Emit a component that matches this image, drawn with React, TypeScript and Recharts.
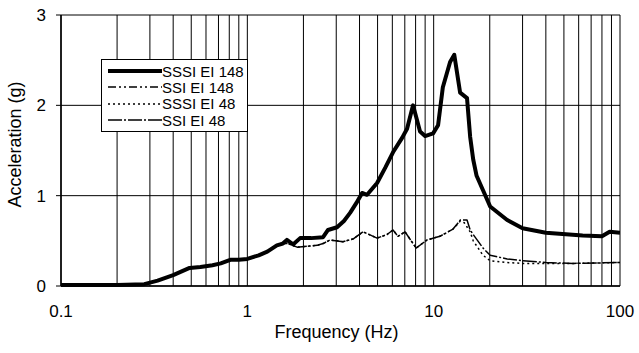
import { LineChart, Line, XAxis, YAxis, CartesianGrid, Legend } from 'recharts'

const FONT = '"Liberation Sans", Arial, sans-serif'

// x axis (log): every minor tick gets a grid line, only decades get a label
const freqTicks = [
  0.1, 0.2, 0.3, 0.4, 0.5, 0.6, 0.7, 0.8, 0.9,
  1, 2, 3, 4, 5, 6, 7, 8, 9,
  10, 20, 30, 40, 50, 60, 70, 80, 90, 100,
]
const decadeTicks = [0.1, 1, 10, 100]
const accelTicks = [0, 1, 2, 3]

// SSSI EI 148 (thick)
const sssi148Freq = [
  0.1, 0.2, 0.28, 0.33, 0.4, 0.49, 0.56, 0.65, 0.72, 0.81, 0.9, 1.0, 1.15, 1.28, 1.44,
  1.55, 1.63, 1.76, 1.92, 2.2, 2.55, 2.71, 3.03, 3.3, 3.56, 3.85, 4.13, 4.39, 4.97, 5.5,
  6.05, 6.77, 7.2, 7.75, 8.45, 8.99, 9.93, 10.56, 11.2, 12.25, 12.9, 13.87, 15.1, 15.7,
  16.3, 17.0, 18.4, 20.1, 24.8, 30, 40, 63, 80, 88, 100,
]
const sssi148Acc = [
  0.01, 0.01, 0.02, 0.06, 0.12, 0.2, 0.21, 0.23, 0.25, 0.29, 0.29, 0.3, 0.34, 0.38, 0.45,
  0.47, 0.51, 0.46, 0.53, 0.53, 0.54, 0.62, 0.65, 0.72, 0.81, 0.92, 1.03, 1.01, 1.14, 1.31,
  1.48, 1.64, 1.74, 2.0, 1.71, 1.66, 1.69, 1.78, 2.2, 2.48, 2.56, 2.14, 2.08, 1.65,
  1.4, 1.22, 1.06, 0.88, 0.73, 0.64, 0.59, 0.56, 0.55, 0.6, 0.59,
]

// SSI EI 148 (dash-dot, runs under the thick line)
const ssi148Freq = [
  0.1, 0.2, 0.28, 0.33, 0.4, 0.49, 0.56, 0.65, 0.72, 0.81, 0.9, 1.0, 1.15, 1.28, 1.44,
  1.55, 1.63, 1.76, 1.92, 2.2, 2.55, 2.71, 3.03, 3.3, 3.56, 3.85, 4.13, 4.39, 4.97, 5.5,
  6.05, 6.77, 7.2, 7.75, 8.45, 8.99, 9.93, 10.56, 11.2, 12.25, 12.9, 13.87, 15.1, 15.7,
  16.3, 17.0, 18.4, 20.1, 24.8, 30, 40, 63, 80, 88, 100,
]
const ssi148Acc = [
  0.01, 0.01, 0.02, 0.06, 0.12, 0.2, 0.21, 0.23, 0.25, 0.29, 0.29, 0.3, 0.34, 0.38, 0.45,
  0.48, 0.5, 0.47, 0.52, 0.53, 0.54, 0.61, 0.65, 0.72, 0.8, 0.92, 1.02, 1.01, 1.13, 1.3,
  1.48, 1.63, 1.74, 1.98, 1.71, 1.66, 1.69, 1.78, 2.18, 2.47, 2.55, 2.14, 2.07, 1.65,
  1.4, 1.22, 1.06, 0.88, 0.73, 0.64, 0.59, 0.56, 0.55, 0.6, 0.59,
]

// SSSI EI 48 (dotted)
const sssi48Freq = [
  0.1, 0.2, 0.28, 0.33, 0.4, 0.49, 0.56, 0.65, 0.72, 0.81, 0.9, 1.0, 1.15, 1.28, 1.44,
  1.55, 1.65, 1.85, 2.09, 2.37, 2.55, 2.78, 3.26, 3.69, 4.18, 4.97, 5.62, 6.05, 6.44,
  7.02, 8.05, 9.22, 10.8, 12.7, 13.9, 14.6, 15.7, 16.3, 18.4, 20.1, 24.8, 30, 56, 100,
]
const sssi48Acc = [
  0.01, 0.01, 0.02, 0.06, 0.12, 0.2, 0.21, 0.23, 0.25, 0.29, 0.29, 0.3, 0.34, 0.38, 0.45,
  0.47, 0.47, 0.43, 0.44, 0.45, 0.47, 0.51, 0.49, 0.52, 0.6, 0.53, 0.57, 0.62, 0.55,
  0.6, 0.42, 0.51, 0.55, 0.63, 0.72, 0.7, 0.6, 0.5, 0.34, 0.28, 0.26, 0.25, 0.25, 0.26,
]

// SSI EI 48 (long dash-dot)
const ssi48Freq = [
  0.1, 0.2, 0.28, 0.33, 0.4, 0.49, 0.56, 0.65, 0.72, 0.81, 0.9, 1.0, 1.15, 1.28, 1.44,
  1.55, 1.65, 1.85, 2.09, 2.37, 2.55, 2.78, 3.26, 3.69, 4.18, 4.97, 5.62, 6.05, 6.44,
  7.02, 8.05, 9.22, 10.8, 12.7, 13.9, 15.1, 15.7, 16.3, 18.4, 20.1, 24.8, 30, 40, 56, 100,
]
const ssi48Acc = [
  0.01, 0.01, 0.02, 0.06, 0.12, 0.2, 0.21, 0.23, 0.25, 0.29, 0.29, 0.3, 0.34, 0.38, 0.45,
  0.47, 0.47, 0.43, 0.44, 0.45, 0.47, 0.51, 0.49, 0.52, 0.6, 0.53, 0.57, 0.62, 0.55,
  0.6, 0.42, 0.51, 0.55, 0.63, 0.73, 0.73, 0.62, 0.57, 0.42, 0.34, 0.3, 0.28, 0.26, 0.25, 0.26,
]

const toPoints = (freq: number[], acc: number[]) => freq.map((f, i) => ({ f, a: acc[i] }))

const series = [
  { name: 'SSSI EI 148', data: toPoints(sssi148Freq, sssi148Acc), width: 4, dash: undefined },
  { name: 'SSI EI 148', data: toPoints(ssi148Freq, ssi148Acc), width: 1.5, dash: '8 3 2 3 2 3' },
  { name: 'SSSI EI 48', data: toPoints(sssi48Freq, sssi48Acc), width: 1.5, dash: '2 3' },
  { name: 'SSI EI 48', data: toPoints(ssi48Freq, ssi48Acc), width: 1.5, dash: '14 2 2 2' },
]

function LegendBox() {
  return (
    <div
      style={{
        border: '1px solid #000',
        background: '#fff',
        padding: '3px 0 3px 6px',
        width: 147,
        boxSizing: 'border-box',
        fontFamily: FONT,
        fontSize: 15,
        color: '#000',
      }}
    >
      {series.map(s => (
        <div key={s.name} style={{ display: 'flex', alignItems: 'center', height: 16.3, whiteSpace: 'nowrap' }}>
          <svg width={54} height={8} style={{ flex: 'none' }}>
            <line x1={0} x2={54} y1={4} y2={4} stroke="#000" strokeWidth={s.width} strokeDasharray={s.dash} />
          </svg>
          <span>{s.name}</span>
        </div>
      ))}
    </div>
  )
}

function YTitle({ viewBox }: any) {
  const cx = viewBox.x + 15
  const cy = viewBox.y + viewBox.height / 2 - 6
  return (
    <text x={cx} y={cy} transform={`rotate(-90 ${cx} ${cy})`} textAnchor="middle" dominantBaseline="central"
      fontFamily={FONT} fontSize={18} fill="#000">
      Acceleration (g)
    </text>
  )
}

function XTitle({ viewBox }: any) {
  const cx = viewBox.x + viewBox.width / 2 - 4
  const cy = viewBox.y + 46
  return (
    <text x={cx} y={cy} textAnchor="middle" dominantBaseline="central" fontFamily={FONT} fontSize={18} fill="#000">
      Frequency (Hz)
    </text>
  )
}

export default function App() {
  return (
    <div style={{ position: 'absolute', left: 0, top: 0, background: '#fff' }}>
      <LineChart width={639} height={353} margin={{ top: 15, right: 19, left: 0, bottom: 0 }}>
        <CartesianGrid stroke="#000" strokeWidth={1} />
        <XAxis
          type="number"
          dataKey="f"
          scale="log"
          domain={[0.1, 100]}
          ticks={freqTicks}
          interval={0}
          allowDataOverflow
          height={67}
          tickLine={false}
          tickSize={0}
          tickMargin={19}
          tickFormatter={(v: number) => (decadeTicks.includes(v) ? String(v) : '')}
          tick={{ fill: '#000', fontSize: 17, fontFamily: FONT }}
          axisLine={{ stroke: '#000', strokeWidth: 1.5 }}
          label={{ content: XTitle }}
        />
        <YAxis
          type="number"
          dataKey="a"
          domain={[0, 3]}
          ticks={accelTicks}
          width={61}
          tickSize={5}
          tickMargin={10}
          tickLine={{ stroke: '#000' }}
          tick={{ fill: '#000', fontSize: 17, fontFamily: FONT }}
          axisLine={{ stroke: '#000', strokeWidth: 1.5 }}
          label={{ content: YTitle }}
        />
        <Legend
          layout="vertical"
          align="center"
          verticalAlign="middle"
          wrapperStyle={{ left: 101, top: 59, width: 'auto', height: 'auto' }}
          content={() => <LegendBox />}
        />
        {series.map(s => (
          <Line
            key={s.name}
            name={s.name}
            data={s.data}
            dataKey="a"
            type="linear"
            stroke="#000"
            strokeWidth={s.width}
            strokeDasharray={s.dash}
            strokeLinejoin="round"
            dot={false}
            activeDot={false}
            isAnimationActive={false}
          />
        ))}
      </LineChart>
    </div>
  )
}
